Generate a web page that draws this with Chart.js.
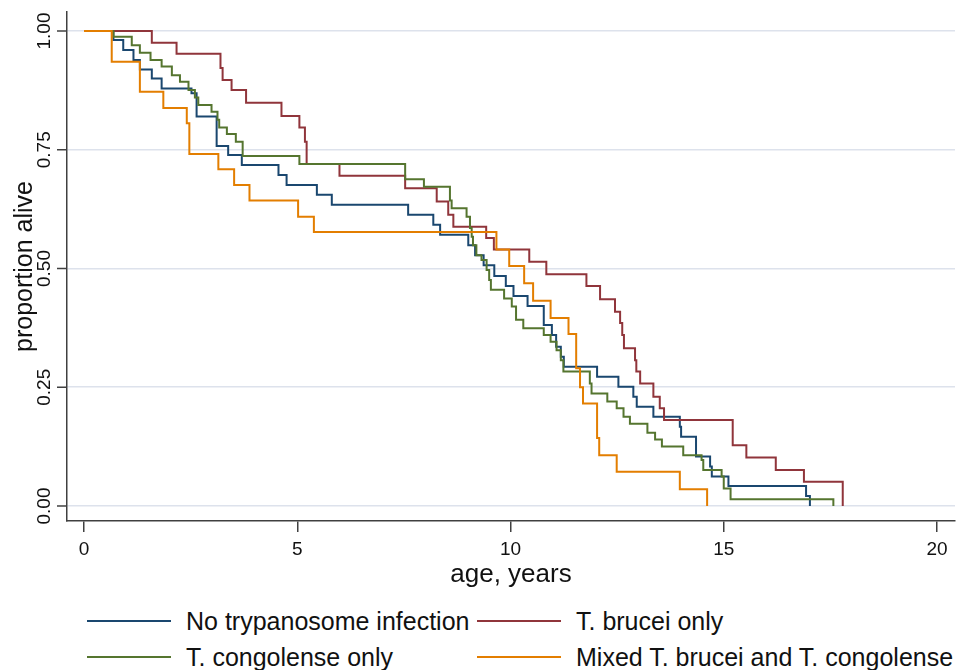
<!DOCTYPE html>
<html>
<head>
<meta charset="utf-8">
<script src="https://cdn.jsdelivr.net/npm/chart.js@4/dist/chart.umd.min.js"></script>
<style>
  html, body { margin: 0; padding: 0; background: #fff; }
  #wrap { position: relative; width: 970px; height: 670px; }
  #chart-box { position: absolute; left: 0; top: 0; width: 970px; height: 600px; }
  #legend { position: absolute; left: 0; top: 600px; width: 970px; height: 70px;
    font-family: "Liberation Sans", Arial, sans-serif; font-size: 25px; color: #111; }
  .leg-item { position: absolute; height: 30px; display: flex; align-items: center; }
  .leg-line { width: 84px; height: 2px; margin-right: 15px; }
</style>
</head>
<body>
<div id="wrap">
  <div id="chart-box"><canvas id="km-chart" width="970" height="600"></canvas></div>
  <div id="legend"></div>
</div>
<script>
// Kaplan-Meier curves: age (years) at each step and proportion alive after it
const noneAge = [0, 0.69, 0.92, 1.16, 1.31, 1.59, 1.82, 2.52, 2.64, 3.11, 3.38, 3.70, 4.56, 4.75, 5.46, 5.81,
  7.60, 8.19, 8.35, 9.01, 9.17, 9.37, 9.62, 9.89, 10.07, 10.40, 10.78, 10.97, 11.07, 11.18, 11.25,
  12.03, 12.53, 12.88, 12.96, 13.35, 13.97, 14.00, 14.35, 14.68, 14.72, 15.11, 16.93, 17.02];
const noneAlive = [1, 0.981, 0.960, 0.939, 0.919, 0.900, 0.879, 0.869, 0.820, 0.758, 0.739, 0.718, 0.697, 0.676, 0.655, 0.634,
  0.613, 0.592, 0.571, 0.549, 0.528, 0.507, 0.484, 0.463, 0.442, 0.421, 0.381, 0.360, 0.335, 0.314, 0.293,
  0.272, 0.251, 0.230, 0.209, 0.188, 0.167, 0.146, 0.104, 0.083, 0.062, 0.042, 0.021, 0];

const bruceiAge = [0, 1.59, 2.17, 3.20, 3.25, 3.46, 3.80, 4.63, 5.05, 5.18, 5.22, 5.99, 7.53, 8.27, 8.54, 8.66,
  9.43, 9.61, 10.44, 10.84, 11.78, 12.10, 12.45, 12.57, 12.62, 12.66, 12.92, 12.95, 13.04, 13.35, 13.50, 13.60,
  15.21, 15.53, 16.22, 16.88, 17.79];
const bruceiAlive = [1, 0.975, 0.952, 0.922, 0.897, 0.876, 0.849, 0.821, 0.797, 0.767, 0.720, 0.695, 0.669, 0.641, 0.613, 0.588,
  0.564, 0.540, 0.514, 0.488, 0.463, 0.435, 0.409, 0.385, 0.360, 0.332, 0.307, 0.283, 0.258, 0.230, 0.206, 0.181,
  0.128, 0.102, 0.076, 0.051, 0];

const congoAge = [0, 0.69, 1.12, 1.31, 1.56, 1.82, 2.06, 2.25, 2.45, 2.60, 2.68, 2.99, 3.13, 3.17, 3.35, 3.56, 3.72, 5.05,
  7.53, 7.97, 8.58, 8.62, 8.97, 9.05, 9.09, 9.12, 9.20, 9.32, 9.44, 9.50, 9.54, 9.85, 10.03, 10.13, 10.30,
  10.78, 10.94, 11.08, 11.18, 11.24, 11.86, 11.90, 12.27, 12.49, 12.65, 12.80, 13.21, 13.39, 13.55,
  14.05, 14.48, 14.52, 14.95, 15.00, 15.16, 17.57];
const congoAlive = [1, 0.988, 0.970, 0.954, 0.939, 0.925, 0.907, 0.893, 0.876, 0.860, 0.844, 0.830, 0.813, 0.797, 0.783, 0.767, 0.737, 0.720,
  0.688, 0.672, 0.643, 0.627, 0.609, 0.585, 0.567, 0.549, 0.528, 0.518, 0.497, 0.476, 0.455, 0.437, 0.420, 0.392, 0.374,
  0.360, 0.346, 0.328, 0.307, 0.283, 0.258, 0.237, 0.220, 0.206, 0.188, 0.173, 0.154, 0.140, 0.125,
  0.107, 0.097, 0.076, 0.062, 0.037, 0.014, 0];

const mixedAge = [0, 0.65, 1.31, 1.86, 2.41, 2.47, 3.15, 3.52, 3.88, 5.02, 5.39, 9.67, 9.97, 10.32, 10.53, 10.94,
  11.36, 11.54, 11.63, 11.70, 12.03, 12.08, 12.49, 13.97, 14.61];
const mixedAlive = [1, 0.935, 0.872, 0.838, 0.806, 0.741, 0.709, 0.676, 0.643, 0.609, 0.577, 0.540, 0.505, 0.469, 0.432, 0.396,
  0.362, 0.290, 0.250, 0.216, 0.143, 0.107, 0.072, 0.035, 0];

const seriesLabels = ['No trypanosome infection', 'T. brucei only', 'T. congolense only', 'Mixed T. brucei and T. congolense'];
const seriesColors = ['#1a476f', '#90353b', '#55752f', '#e37e00'];
const xTicks = [0, 5, 10, 15, 20];
const yTicks = [0, 0.25, 0.5, 0.75, 1];

const FONT = '"Liberation Sans", Arial, sans-serif';

function toPoints(ages, alive) {
  return ages.map((a, i) => ({ x: a, y: alive[i] }));
}

const curves = [
  toPoints(noneAge, noneAlive),
  toPoints(bruceiAge, bruceiAlive),
  toPoints(congoAge, congoAlive),
  toPoints(mixedAge, mixedAlive),
];

const datasets = curves.map((pts, i) => ({
  label: seriesLabels[i],
  data: pts,
  borderColor: seriesColors[i],
  borderWidth: 2,
  stepped: 'before',
  pointRadius: 0,
  fill: false,
  order: 4 - i, // later series drawn on top
}));

const ctx = document.getElementById('km-chart').getContext('2d');
new Chart(ctx, {
  type: 'line',
  data: { datasets },
  options: {
    responsive: false,
    animation: false,
    layout: { padding: { top: 12, right: 15, left: 0, bottom: 0 } },
    plugins: { legend: { display: false }, tooltip: { enabled: false } },
    scales: {
      x: {
        type: 'linear',
        min: -0.3986,
        max: 20.422,
        afterBuildTicks: (s) => { s.ticks = xTicks.map(v => ({ value: v })); },
        afterFit: (s) => { s.height = 79; s.paddingLeft = 0; s.paddingRight = 0; },
        grid: { display: true, drawOnChartArea: false, drawTicks: true, tickLength: 11, color: '#404040', lineWidth: 1.5 },
        border: { display: true, color: '#404040', width: 1.5 },
        ticks: { color: '#111', font: { family: FONT, size: 19 }, padding: 6, maxRotation: 0, callback: (v) => String(v) },
        title: { display: true, text: 'age, years', color: '#111', font: { family: FONT, size: 26 }, padding: { top: 0, bottom: 10 } },
      },
      y: {
        type: 'linear',
        min: -0.0316,
        max: 1.04,
        afterBuildTicks: (s) => { s.ticks = yTicks.map(v => ({ value: v })); },
        afterFit: (s) => { s.width = 67; s.paddingTop = 0; s.paddingBottom = 0; },
        grid: {
          color: (c) => c.tick ? '#dde2ec' : 'transparent',
          lineWidth: 1.5,
          drawTicks: false,
        },
        border: { display: true, color: '#404040', width: 1.5 },
        ticks: {
          color: '#111', font: { family: FONT, size: 19 }, padding: 4,
          minRotation: 90, maxRotation: 90, crossAlign: 'center',
          callback: (v) => v.toFixed(2),
        },
        title: { display: true, text: 'proportion alive', color: '#111', font: { family: FONT, size: 25 }, padding: { top: 10, bottom: 0 } },
      },
    },
  },
  plugins: [{
    id: 'yTickMarks',
    afterDraw(chart) {
      // short outward tick marks on the y axis
      const y = chart.scales.y;
      const c = chart.ctx;
      c.save();
      c.strokeStyle = '#404040';
      c.lineWidth = 1.5;
      yTicks.forEach(v => {
        const py = y.getPixelForValue(v);
        c.beginPath();
        c.moveTo(y.right - 10, py);
        c.lineTo(y.right, py);
        c.stroke();
      });
      c.restore();
    },
  }],
});

// legend laid out in two columns like the original
const legendEl = document.getElementById('legend');
const legendPos = [[87, 6], [477, 6], [87, 42], [477, 42]];
seriesLabels.forEach((lab, i) => {
  const item = document.createElement('div');
  item.className = 'leg-item';
  item.style.left = legendPos[i][0] + 'px';
  item.style.top = legendPos[i][1] + 'px';
  item.innerHTML = `<span class="leg-line" style="background:${seriesColors[i]}"></span><span>${lab}</span>`;
  legendEl.appendChild(item);
});
</script>
</body>
</html>
